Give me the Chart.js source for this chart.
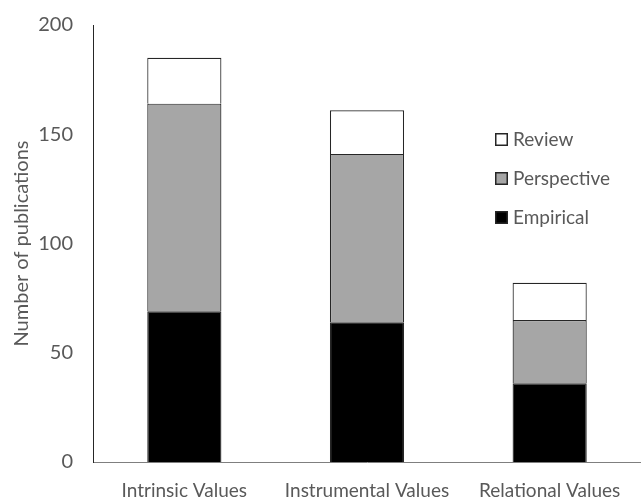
<!DOCTYPE html>
<html>
<head>
<meta charset="utf-8">
<script src="https://cdn.jsdelivr.net/npm/chart.js@4"></script>
<style>
  html, body { margin: 0; padding: 0; background: #fff; }
  #wrap { width: 641px; height: 500px; }
</style>
</head>
<body>
<div id="wrap"><canvas id="c" width="641" height="500"></canvas></div>
<script>
const categories = ["Intrinsic Values", "Instrumental Values", "Relational Values"];
const empirical = [69, 64, 36];
const perspective = [95, 77, 29];
const review = [21, 20, 17];
const yTicks = [0, 50, 100, 150, 200];

const FONT = "Lato, 'Open Sans', sans-serif";
const TEXT = "#595959";

const insideLegend = {
  id: "insideLegend",
  afterDraw(chart) {
    const ctx = chart.ctx;
    const ds = chart.data.datasets.slice().reverse();
    const x0 = 495, y0 = 139, step = 39, box = 13;
    ctx.save();
    ctx.font = "19px " + FONT;
    ctx.textBaseline = "middle";
    ds.forEach((d, i) => {
      const y = Math.round(y0 + i * step);
      ctx.fillStyle = d.backgroundColor;
      ctx.fillRect(x0, y - 6, box, box);
      ctx.strokeStyle = "#262626";
      ctx.lineWidth = 1.5;
      ctx.strokeRect(x0 + 0.75, y - 6 + 0.75, box - 1.5, box - 1.5);
      ctx.fillStyle = TEXT;
      ctx.fillText(d.label, x0 + box + 5, y + 1);
    });
    ctx.restore();
  }
};

new Chart(document.getElementById("c"), {
  type: "bar",
  data: {
    labels: categories,
    datasets: [
      { label: "Empirical", data: empirical, backgroundColor: "#000000", borderColor: "#262626", borderWidth: 1.2 },
      { label: "Perspective", data: perspective, backgroundColor: "#a6a6a6", borderColor: "#262626", borderWidth: 1.2 },
      { label: "Review", data: review, backgroundColor: "#ffffff", borderColor: "#262626", borderWidth: 1.2 }
    ]
  },
  options: {
    responsive: false,
    animation: false,
    devicePixelRatio: 1,
    layout: { padding: { top: 25, right: -7, left: 0, bottom: 0 } },
    plugins: { legend: { display: false }, tooltip: { enabled: false } },
    datasets: { bar: { categoryPercentage: 1, barPercentage: 0.406 } },
    scales: {
      x: {
        stacked: true,
        grid: { display: false, drawTicks: false },
        border: { color: "#7f7f7f", width: 1 },
        ticks: { color: TEXT, font: { family: FONT, size: 19 }, padding: 17, maxRotation: 0 },
        afterFit(s) { s.height = 38; s.paddingLeft = 0; s.paddingRight = 0; }
      },
      y: {
        stacked: true,
        min: 0, max: 200,
        afterBuildTicks(s) { s.ticks = yTicks.map(v => ({ value: v })); },
        grid: { display: false, drawTicks: false },
        border: { color: "#262626", width: 1 },
        ticks: { color: TEXT, font: { family: FONT, size: 20 }, padding: 20 },
        title: { display: true, text: "Number of publications", color: TEXT, font: { family: FONT, size: 20 }, padding: { top: 10, bottom: 0 } },
        afterFit(s) { s.width = 93; s.paddingTop = 0; s.paddingBottom = 0; }
      }
    }
  },
  plugins: [insideLegend]
});
</script>
</body>
</html>
